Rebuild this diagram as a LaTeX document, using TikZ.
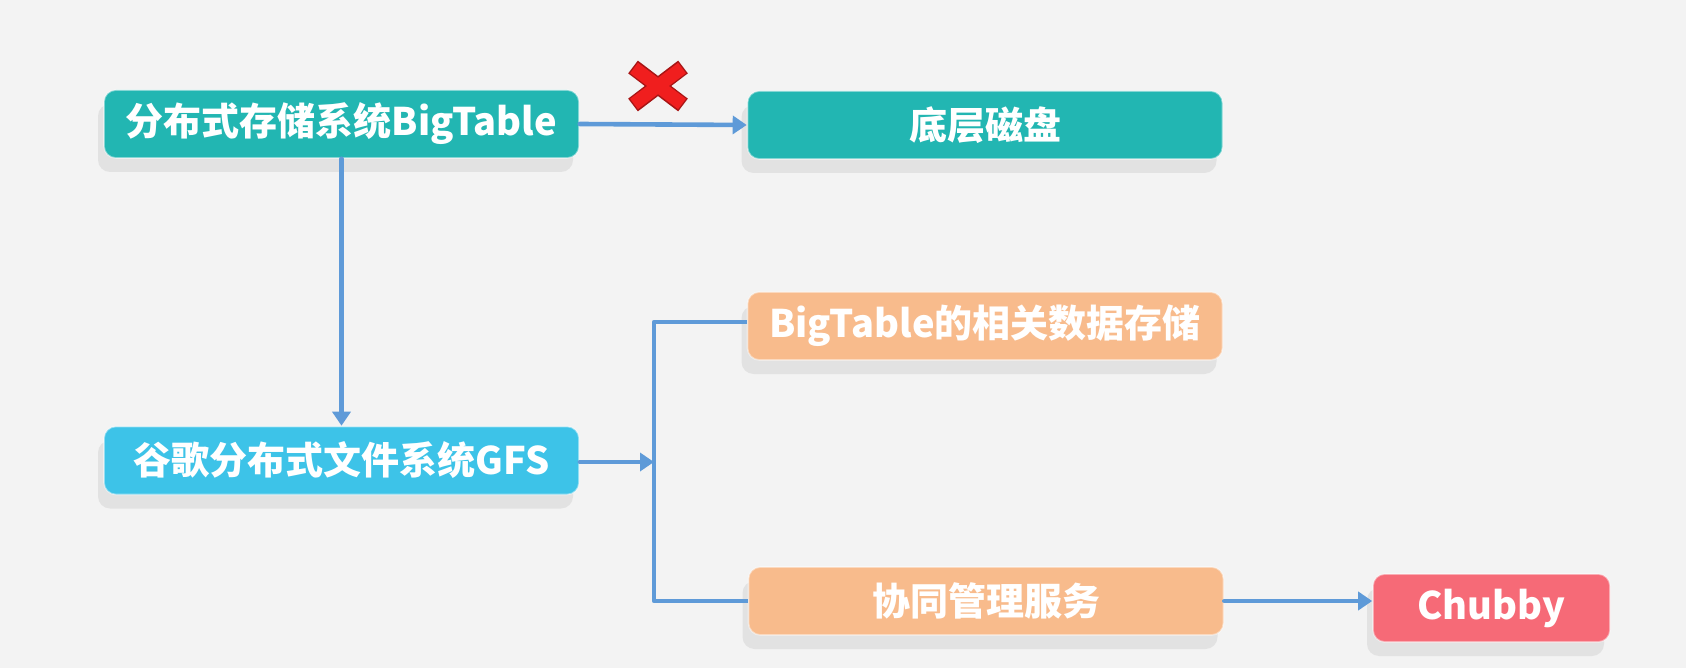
\documentclass[tikz,border=0pt]{standalone}
\usepackage{fontspec}
\newfontfamily\cjk{Noto Sans CJK SC}
\usetikzlibrary{calc, arrows.meta, shadows}

\definecolor{bgcol}{HTML}{F3F3F3}
\definecolor{tealcol}{HTML}{22B6B2}
\definecolor{skycol}{HTML}{3DC3E8}
\definecolor{peachcol}{HTML}{F8BB8C}
\definecolor{rosecol}{HTML}{F66A77}
\definecolor{linkcol}{HTML}{5E9AD8}
\definecolor{crosscol}{HTML}{F01E1E}

\begin{document}
\begin{tikzpicture}[x=0.5pt,y=-0.5pt,line cap=round,line join=round,
  box/.style={rounded corners=6pt,minimum height=34pt,inner sep=0pt,
    text=white,font=\cjk\bfseries\fontsize{19}{22}\selectfont,
    draw=white,draw opacity=0.45,line width=0.8pt,
    drop shadow={opacity=0.14,shadow xshift=-3pt,shadow yshift=-7pt}},
  wide/.style={box,minimum width=237.5pt},
  link/.style={draw=linkcol,line width=2.3pt,
    -{Triangle[length=7pt,width=9pt]}},
  plain/.style={draw=linkcol,line width=2.3pt,line cap=butt}]
\path[use as bounding box,fill=bgcol] (0,0) rectangle (1686,668);

% boxes
\node[wide,fill=tealcol] (bigtable) at (341.5,124) {分布式存储系统BigTable};
\node[wide,fill=tealcol] (disk) at (985,125) {底层磁盘};
\node[wide,fill=skycol] (gfs) at (341.5,460.5) {谷歌分布式文件系统GFS};
\node[wide,fill=peachcol] (store) at (985,326) {BigTable的相关数据存储};
\node[wide,fill=peachcol] (coord) at (986,601) {协同管理服务};
\node[box,fill=rosecol,minimum width=118.5pt] (chubby) at (1491.5,608) {Chubby};

\coordinate (fork) at (654,462);
\coordinate (forkup) at (654,322);
\coordinate (forkdown) at (654,601);
\coordinate (cross) at (658,86);

% connectors
\draw[link] (bigtable.east) -- (disk.west);
\draw[link] (bigtable.south) -- (gfs.north);
\draw[link] (gfs.east |- fork) -- (fork);
\draw[plain] (store.west |- forkup) -- (forkup) -- (forkdown) -- (coord.west |- forkdown);
\draw[link] (coord.east) -- (chubby.west |- coord.east);

% red cross over the blocked link
\foreach \s in {1,-1}{
  \draw[crosscol!70!black,line width=8pt,line cap=butt]
    ($(cross)+(-25,-19*\s)$) -- ($(cross)+(25,19*\s)$);
}
\foreach \s in {1,-1}{
  \draw[crosscol,line width=6.5pt,line cap=butt]
    ($(cross)+(-24,-18*\s)$) -- ($(cross)+(24,18*\s)$);
}
\end{tikzpicture}
\end{document}
